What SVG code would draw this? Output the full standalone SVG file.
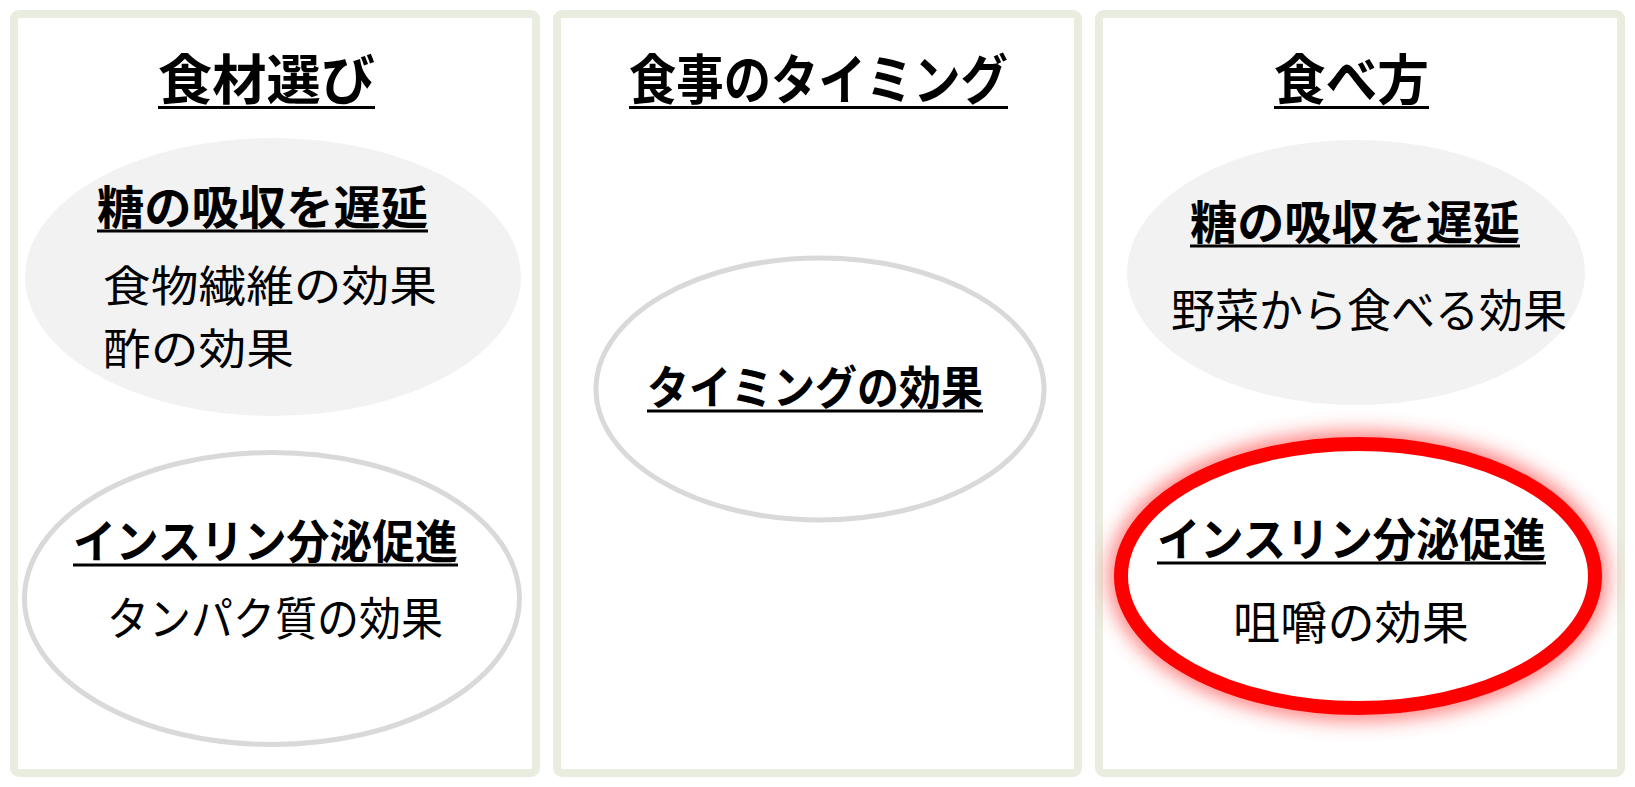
<svg xmlns="http://www.w3.org/2000/svg" width="1635" height="787" viewBox="0 0 1635 787">
<style>
.panel{fill:#ffffff;stroke:#E9EDDF;stroke-width:8}
.ttl{font-family:"Noto Sans CJK JP","Noto Sans CJK SC",sans-serif;font-weight:700;font-size:54px;fill:#000}
.sub{font-family:"Noto Sans CJK JP","Noto Sans CJK SC",sans-serif;font-weight:700;font-size:46px;fill:#000}
.txt{font-family:"Noto Sans CJK JP","Noto Sans CJK SC",sans-serif;font-weight:400;font-size:46px;fill:#000}
.txt2{font-family:"Noto Sans CJK JP","Noto Sans CJK SC",sans-serif;font-weight:400;font-size:43px;fill:#000}
.ul{fill:#000}
.gfill{fill:#F2F2F2;stroke:none}
.gring{fill:#ffffff;stroke:#D9D9D9;stroke-width:5}
</style>
<defs>
<filter id="glow" x="-20%" y="-30%" width="140%" height="160%">
<feGaussianBlur stdDeviation="10"/>
</filter>
</defs>
<rect width="1635" height="787" fill="#ffffff"/>

<g id="panel-ingredients">
<rect class="panel" x="14" y="14" width="522" height="759" rx="5"/>
<text class="ttl" x="158" y="100" textLength="217" lengthAdjust="spacingAndGlyphs">食材選び</text>
<rect class="ul" x="158" y="106" width="217" height="3"/>
</g>

<g id="panel-timing">
<rect class="panel" x="557" y="14" width="521" height="759" rx="5"/>
<text class="ttl" x="629" y="100" textLength="379" lengthAdjust="spacingAndGlyphs">食事のタイミング</text>
<rect class="ul" x="629" y="106" width="379" height="3"/>
</g>

<g id="panel-eating">
<rect class="panel" x="1099" y="14" width="522" height="759" rx="5"/>
<text class="ttl" x="1274" y="100" textLength="155" lengthAdjust="spacingAndGlyphs">食べ方</text>
<rect class="ul" x="1274" y="106" width="155" height="3"/>
</g>

<g id="node-sugar-left">
<ellipse class="gfill" cx="273" cy="277" rx="248" ry="139"/>
<text class="sub" x="97" y="224" textLength="331" lengthAdjust="spacingAndGlyphs">糖の吸収を遅延</text>
<rect class="ul" x="97" y="229.5" width="331" height="3"/>
<text class="txt2" x="103" y="302" textLength="334" lengthAdjust="spacingAndGlyphs">食物繊維の効果</text>
<text class="txt2" x="103" y="365" textLength="191" lengthAdjust="spacingAndGlyphs">酢の効果</text>
</g>

<g id="node-insulin-left">
<ellipse class="gring" cx="272" cy="598.5" rx="247.5" ry="146"/>
<text class="sub" x="73" y="558" textLength="385" lengthAdjust="spacingAndGlyphs">インスリン分泌促進</text>
<rect class="ul" x="73" y="563.5" width="385" height="3"/>
<text class="txt" x="107" y="635" textLength="336" lengthAdjust="spacingAndGlyphs">タンパク質の効果</text>
</g>

<g id="node-timing">
<ellipse class="gring" cx="820" cy="389" rx="224" ry="131"/>
<text class="sub" x="647" y="404" textLength="336" lengthAdjust="spacingAndGlyphs">タイミングの効果</text>
<rect class="ul" x="647" y="409.5" width="336" height="3"/>
</g>

<g id="node-sugar-right">
<ellipse class="gfill" cx="1356" cy="272.5" rx="229" ry="132.5"/>
<text class="sub" x="1190" y="239" textLength="330" lengthAdjust="spacingAndGlyphs">糖の吸収を遅延</text>
<rect class="ul" x="1190" y="244.5" width="330" height="3"/>
<text class="txt" x="1171" y="327" textLength="396" lengthAdjust="spacingAndGlyphs">野菜から食べる効果</text>
</g>

<g id="node-insulin-right">
<ellipse cx="1358" cy="576" rx="237" ry="132" fill="none" stroke="#FF4040" stroke-width="24" opacity="0.7" filter="url(#glow)"/>
<ellipse cx="1358" cy="576" rx="237" ry="132" fill="#ffffff" stroke="#FF0000" stroke-width="14"/>
<text class="sub" x="1157" y="556" textLength="389" lengthAdjust="spacingAndGlyphs">インスリン分泌促進</text>
<rect class="ul" x="1157" y="561.5" width="389" height="3"/>
<text class="txt" x="1233" y="639" textLength="236" lengthAdjust="spacingAndGlyphs">咀嚼の効果</text>
</g>

<g id="connectors"></g>
</svg>
